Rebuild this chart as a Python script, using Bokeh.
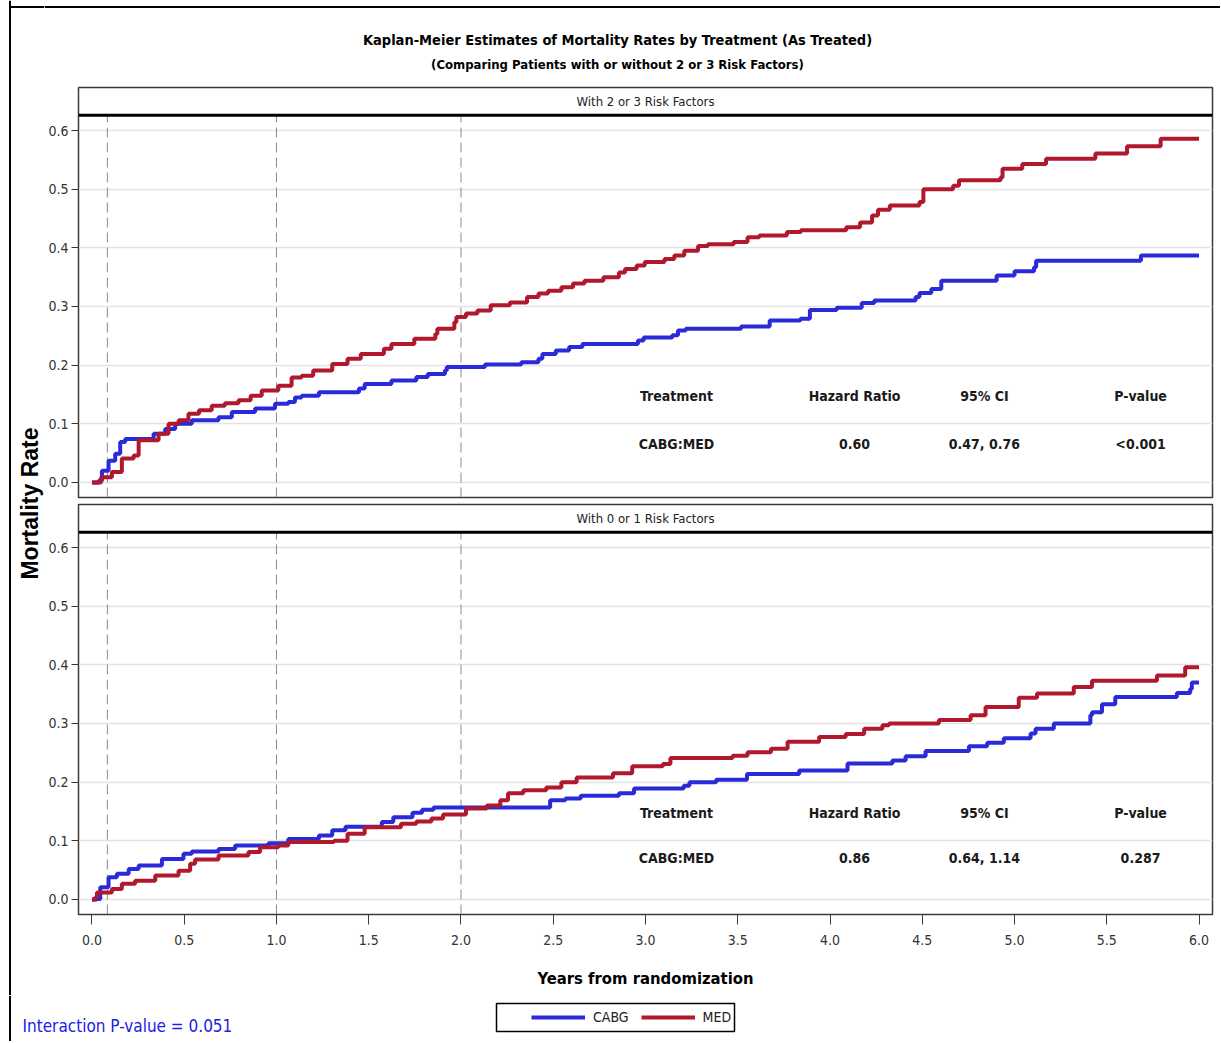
import math
from bokeh.plotting import figure
from bokeh.layouts import column, row
from bokeh.models import Range1d, FixedTicker, NumeralTickFormatter, Span, Legend, LegendItem
from bokeh.core.properties import value
from bokeh.embed import file_html
from bokeh.resources import INLINE

# ---------------- data ----------------
title_text = "Kaplan-Meier Estimates of Mortality Rates by Treatment (As Treated)"
subtitle_text = "(Comparing Patients with or without 2 or 3 Risk Factors)"
panel_labels = ["With 2 or 3 Risk Factors", "With 0 or 1 Risk Factors"]
x_label = "Years from randomization"
y_label = "Mortality Rate"
interaction_text = "Interaction P-value = 0.051"
series_names = ["CABG", "MED"]

x_ticks = [0.0, 0.5, 1.0, 1.5, 2.0, 2.5, 3.0, 3.5, 4.0, 4.5, 5.0, 5.5, 6.0]
y_ticks = [0.0, 0.1, 0.2, 0.3, 0.4, 0.5, 0.6]
ref_times = [1 / 12, 1.0, 2.0]

table_header = ["Treatment", "Hazard Ratio", "95% CI", "P-value"]
table_row_top = ["CABG:MED", "0.60", "0.47, 0.76", "<0.001"]
table_row_bottom = ["CABG:MED", "0.86", "0.64, 1.14", "0.287"]

# Top panel (2 or 3 risk factors)
top_med_t = [0, 0.05, 0.108, 0.162, 0.226, 0.253, 0.361, 0.415, 0.47, 0.523, 0.58, 0.649, 0.72, 0.794,
             0.86, 0.92, 1.01, 1.082, 1.136, 1.199, 1.302, 1.385, 1.457, 1.582, 1.623, 1.747, 1.861, 1.872,
             1.964, 1.975, 2.027, 2.089, 2.161, 2.265, 2.358, 2.42, 2.472, 2.544, 2.607, 2.669, 2.772, 2.856,
             2.889, 2.952, 2.996, 3.103, 3.156, 3.21, 3.285, 3.338, 3.478, 3.553, 3.617, 3.766, 3.842, 4.088,
             4.163, 4.228, 4.26, 4.324, 4.485, 4.506, 4.667, 4.699, 4.924, 4.935, 5.042, 5.171, 5.438, 5.61,
             5.792, 6.0]
top_med_v = [0, 0.009, 0.018, 0.041, 0.046, 0.072, 0.083, 0.1, 0.106, 0.117, 0.123, 0.131, 0.135, 0.14,
             0.148, 0.157, 0.165, 0.179, 0.182, 0.191, 0.202, 0.211, 0.219, 0.228, 0.236, 0.245, 0.253, 0.262,
             0.273, 0.282, 0.288, 0.293, 0.302, 0.307, 0.316, 0.322, 0.327, 0.333, 0.339, 0.344, 0.35, 0.358,
             0.364, 0.37, 0.376, 0.381, 0.387, 0.395, 0.403, 0.406, 0.41, 0.418, 0.421, 0.427, 0.43, 0.435,
             0.443, 0.455, 0.465, 0.472, 0.478, 0.5, 0.506, 0.515, 0.52, 0.535, 0.543, 0.552, 0.561, 0.573,
             0.586, 0.586]
top_cabg_t = [0, 0.036, 0.054, 0.09, 0.126, 0.153, 0.18, 0.334, 0.397, 0.451, 0.541, 0.686, 0.758, 0.884,
              0.992, 1.064, 1.1, 1.136, 1.23, 1.447, 1.478, 1.623, 1.758, 1.82, 1.913, 1.923, 2.13, 2.327,
              2.42, 2.441, 2.514, 2.586, 2.658, 2.959, 2.99, 3.145, 3.176, 3.218, 3.518, 3.673, 3.839, 3.891,
              4.036, 4.172, 4.24, 4.464, 4.485, 4.549, 4.603, 4.903, 5.0, 5.106, 5.117, 5.685, 6.0]
top_cabg_v = [0, 0.003, 0.02, 0.037, 0.049, 0.069, 0.074, 0.083, 0.091, 0.1, 0.106, 0.111, 0.12, 0.126,
              0.134, 0.137, 0.145, 0.148, 0.154, 0.16, 0.168, 0.174, 0.18, 0.185, 0.191, 0.197, 0.201, 0.205,
              0.211, 0.219, 0.225, 0.231, 0.236, 0.242, 0.247, 0.251, 0.259, 0.262, 0.266, 0.276, 0.279, 0.294,
              0.298, 0.306, 0.31, 0.316, 0.323, 0.33, 0.344, 0.353, 0.36, 0.367, 0.378, 0.387, 0.387]

# Bottom panel (0 or 1 risk factors)
bot_med_t = [0, 0.018, 0.027, 0.108, 0.162, 0.234, 0.343, 0.469, 0.532, 0.559, 0.686, 0.848, 0.911, 1.01,
             1.064, 1.312, 1.385, 1.478, 1.675, 1.758, 1.84, 1.903, 2.027, 2.14, 2.213, 2.255, 2.338, 2.462,
             2.544, 2.627, 2.824, 2.928, 3.094, 3.135, 3.472, 3.553, 3.68, 3.77, 3.941, 4.085, 4.185, 4.284,
             4.32, 4.59, 4.762, 4.843, 5.023, 5.122, 5.321, 5.42, 5.772, 5.925, 6.0]
bot_med_v = [0, 0.004, 0.012, 0.018, 0.027, 0.032, 0.041, 0.049, 0.061, 0.068, 0.075, 0.081, 0.089, 0.092,
             0.098, 0.1, 0.112, 0.123, 0.129, 0.133, 0.138, 0.145, 0.155, 0.16, 0.169, 0.181, 0.186, 0.191,
             0.2, 0.208, 0.215, 0.227, 0.231, 0.241, 0.245, 0.251, 0.257, 0.269, 0.277, 0.282, 0.291, 0.297,
             0.3, 0.306, 0.314, 0.328, 0.344, 0.351, 0.362, 0.373, 0.382, 0.396, 0.396]
bot_cabg_t = [0, 0.027, 0.045, 0.09, 0.135, 0.199, 0.253, 0.379, 0.496, 0.541, 0.686, 0.776, 0.956, 1.064,
              1.23, 1.302, 1.374, 1.571, 1.633, 1.737, 1.789, 1.851, 2.483, 2.566, 2.649, 2.856, 2.938, 3.207,
              3.238, 3.383, 3.55, 3.833, 4.095, 4.338, 4.41, 4.518, 4.753, 4.852, 4.942, 5.087, 5.114, 5.213,
              5.411, 5.42, 5.474, 5.546, 5.88, 5.952, 5.961, 6.0]
bot_cabg_v = [0, 0.001, 0.021, 0.038, 0.044, 0.052, 0.058, 0.069, 0.078, 0.082, 0.086, 0.092, 0.096, 0.103,
              0.109, 0.118, 0.124, 0.132, 0.14, 0.148, 0.153, 0.157, 0.169, 0.172, 0.177, 0.181, 0.189, 0.194,
              0.2, 0.204, 0.214, 0.22, 0.232, 0.237, 0.244, 0.253, 0.261, 0.267, 0.275, 0.283, 0.291, 0.3,
              0.314, 0.319, 0.333, 0.345, 0.352, 0.359, 0.37, 0.37]

# ---------------- styling ----------------
NARROW_NAME = "DejaVu Sans Condensed, sans-serif"
NARROW = value(NARROW_NAME)
SANS = value("Liberation Sans")
BLUE = "#2a2ad8"
RED = "#b0182e"
AXIS_COL = "#3a3a3a"
X_RANGE = (-0.073, 6.073)
Y_RANGE = (-0.0256, 0.6733)
STRIP_LINE = 0.626
STRIP_TEXT_Y = 0.650
TABLE_X = [3.168, 4.133, 4.837, 5.683]

LEFT_W = 44
PANEL_W = 1176
PANEL_LEFT_BORDER = 34
HEADER_H = 84
TOP_H = 416
BOT_H = 495
FOOT_H = 46
TOTAL_W = LEFT_W + PANEL_W
FOOT_TOP = HEADER_H + TOP_H + BOT_H  # page y of footer top


def no_align(f):
    try:
        f.frame_align = False
    except Exception:
        pass


def blank_fig(w, h):
    f = figure(width=w, height=h, x_range=Range1d(0, w), y_range=Range1d(0, h),
               x_axis_location=None, y_axis_location=None, toolbar_location=None,
               output_backend="svg", min_border=0, min_border_left=0, min_border_right=0,
               min_border_top=0, min_border_bottom=0)
    f.outline_line_color = None
    f.xgrid.visible = False
    f.ygrid.visible = False
    no_align(f)
    return f


def panel(h, top_b, bot_b, label, cabg_t, cabg_v, med_t, med_v, row_vals, hdr_y, row_y, show_x):
    p = figure(width=PANEL_W, height=h, x_range=Range1d(*X_RANGE), y_range=Range1d(*Y_RANGE),
               x_axis_location="below" if show_x else None, toolbar_location=None,
               output_backend="svg", min_border_left=PANEL_LEFT_BORDER, min_border_right=8,
               min_border_top=top_b, min_border_bottom=bot_b)
    p.outline_line_color = AXIS_COL
    p.outline_line_width = 1.5
    p.xgrid.visible = False
    p.ygrid.ticker = FixedTicker(ticks=y_ticks)
    p.ygrid.grid_line_color = "#e3e3e3"
    p.ygrid.grid_line_width = 1.5
    ax = p.yaxis[0]
    ax.ticker = FixedTicker(ticks=y_ticks)
    ax.formatter = NumeralTickFormatter(format="0.0")
    ax.major_tick_out = 7
    ax.major_tick_in = 0
    ax.minor_tick_out = 0
    ax.minor_tick_in = 0
    ax.major_label_standoff = 3
    ax.axis_line_color = AXIS_COL
    ax.major_tick_line_color = AXIS_COL
    ax.major_label_text_font = NARROW_NAME
    ax.major_label_text_font_size = "14px"
    ax.major_label_text_color = "#333333"
    if show_x:
        xa = p.xaxis[0]
        xa.ticker = FixedTicker(ticks=x_ticks)
        xa.formatter = NumeralTickFormatter(format="0.0")
        xa.major_tick_out = 10
        xa.major_tick_in = 0
        xa.minor_tick_out = 0
        xa.minor_tick_in = 0
        xa.major_label_standoff = 10
        xa.axis_line_color = AXIS_COL
        xa.major_tick_line_color = AXIS_COL
        xa.major_label_text_font = NARROW_NAME
        xa.major_label_text_font_size = "14px"
        xa.major_label_text_color = "#333333"
        xa.axis_label = x_label
        xa.axis_label_standoff = 21
        xa.axis_label_text_font = NARROW_NAME
        xa.axis_label_text_font_style = "bold"
        xa.axis_label_text_font_size = "16.5px"
        xa.axis_label_text_color = "black"

    # reference dashed lines
    p.segment(x0=ref_times, y0=[Y_RANGE[0]] * len(ref_times), x1=ref_times,
              y1=[STRIP_LINE] * len(ref_times), line_color="#8a8a8a", line_width=1,
              line_dash="10 5")
    # strip header
    p.add_layout(Span(location=STRIP_LINE, dimension="width", line_color="black", line_width=3))
    p.text(x=[3.0], y=[STRIP_TEXT_Y], text=[label], text_align="center",
           text_baseline="middle", text_font=NARROW, text_font_size="13px", text_color="#222222")

    # curves
    p.step(x=cabg_t, y=cabg_v, mode="after", line_color=BLUE, line_width=4)
    p.step(x=med_t, y=med_v, mode="after", line_color=RED, line_width=4)

    # statistics table
    p.text(x=TABLE_X, y=[hdr_y] * 4, text=table_header, text_align="center", text_baseline="middle",
           text_font=NARROW, text_font_style="bold", text_font_size="14px", text_color="#1a1a1a")
    p.text(x=TABLE_X, y=[row_y] * 4, text=row_vals, text_align="center", text_baseline="middle",
           text_font=NARROW, text_font_style="bold", text_font_size="14px", text_color="#1a1a1a")
    return p


# header figure (titles)
header = blank_fig(PANEL_W, HEADER_H)
header.text(x=[617 - LEFT_W], y=[HEADER_H - 39], text=[title_text], text_align="center",
            text_baseline="middle", text_font=NARROW, text_font_style="bold", text_font_size="14.5px",
            text_color="black")
header.text(x=[617 - LEFT_W], y=[HEADER_H - 64], text=[subtitle_text], text_align="center",
            text_baseline="middle", text_font=NARROW, text_font_style="bold", text_font_size="13px",
            text_color="black")
header.add_layout(Span(location=HEADER_H - 6.5, dimension="width", line_color="black", line_width=2))

top = panel(TOP_H, 3, 3, panel_labels[0], top_cabg_t, top_cabg_v, top_med_t, top_med_v,
            table_row_top, 0.1466, 0.0648, False)
bottom = panel(BOT_H, 4, 81, panel_labels[1], bot_cabg_t, bot_cabg_v, bot_med_t, bot_med_v,
               table_row_bottom, 0.148, 0.0699, True)

# left strip with y label and outer frame lines
LEFT_H = HEADER_H + TOP_H + BOT_H
left = blank_fig(LEFT_W, LEFT_H)
left.text(x=[29], y=[LEFT_H - 503], text=[y_label], angle=math.pi / 2, text_align="center",
          text_baseline="middle", text_font=SANS, text_font_style="bold", text_font_size="23px",
          text_color="black")
left.add_layout(Span(location=9.5, dimension="height", line_color="black", line_width=2))
left.segment(x0=[9.5], y0=[LEFT_H - 6.5], x1=[LEFT_W], y1=[LEFT_H - 6.5], line_color="black",
             line_width=2)

# footer with legend and interaction p-value
footer = blank_fig(TOTAL_W, FOOT_H)
footer.add_layout(Span(location=9.5, dimension="height", line_color="black", line_width=2))
footer.text(x=[22], y=[FOOT_H - (1025 - FOOT_TOP)], text=[interaction_text], text_align="left",
            text_baseline="middle", text_font=NARROW, text_font_size="17px", text_color="#2020e8")
footer.quad(left=[496], right=[734], bottom=[FOOT_H - (1031 - FOOT_TOP)],
            top=[FOOT_H - (1003 - FOOT_TOP)], fill_color=None, line_color="black", line_width=1.5)
r_c = footer.line(x=[-50, -40], y=[-50, -50], line_color=BLUE, line_width=4)
r_m = footer.line(x=[-50, -40], y=[-50, -50], line_color=RED, line_width=4)
legend = Legend(items=[LegendItem(label=series_names[0], renderers=[r_c]),
                       LegendItem(label=series_names[1], renderers=[r_m])],
                orientation="horizontal", location=(531, FOOT_H - (1017 - FOOT_TOP) - 10),
                glyph_width=54, glyph_height=20, label_height=20, label_standoff=8, spacing=12,
                padding=0, margin=0, border_line_alpha=0, background_fill_alpha=0,
                label_text_font=NARROW_NAME, label_text_font_size="14px", label_text_color="#222222")
footer.add_layout(legend)

layout = column(row(left, column(header, top, bottom, spacing=0), spacing=0), footer, spacing=0)

open("out.html", "w").write(file_html(layout, INLINE))
